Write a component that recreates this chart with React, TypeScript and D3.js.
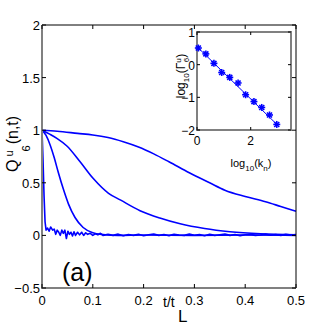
import React from "react";
import * as d3 from "d3";

// ---- main panel data ----
const tA = [0,0.002,0.004,0.006,0.008,0.011,0.014,0.017,0.021,0.024,0.027,0.03,0.033,0.036,0.039,0.042,0.045,0.048,0.051,0.054,0.057,0.06,0.063,0.066,0.07,0.074,0.078,0.082,0.086,0.09,0.095,0.1,0.105,0.11,0.115,0.12,0.13,0.14,0.15,0.16,0.17,0.18,0.19,0.2,0.21,0.22,0.23,0.24,0.25,0.26,0.27,0.28,0.29,0.3,0.31,0.32,0.33,0.34,0.35,0.36,0.37,0.38,0.39,0.4,0.41,0.42,0.43,0.44,0.45,0.46,0.47,0.48,0.49,0.5];
const vA = [1,0.72,0.38,0.13,0.05,0.07,0.04,0.08,0.05,0.06,0.01,0.05,0.03,0.0,0.05,0.02,0.05,-0.03,0.04,0.01,0.03,-0.005,0.035,0.0,0.03,0.005,0.03,0.0,0.025,0.01,0.02,0.0,0.015,0.005,0.02,0.0,0.01,0.0,0.012,-0.004,0.008,0.0,0.01,-0.003,0.006,0.012,0.0,0.008,-0.002,0.01,0.004,0.0,0.012,0.002,0.008,-0.003,0.01,0.0,0.006,0.012,0.0,0.008,-0.002,0.006,0.01,0.0,0.004,0.012,0.002,0.008,0.0,0.01,0.004,0.008];

const tB = [0,0.008,0.016,0.024,0.032,0.042,0.052,0.065,0.081,0.1,0.12,0.15,0.2,0.3,0.4,0.5];
const vB = [1,0.95,0.86,0.74,0.6,0.44,0.3,0.17,0.075,0.025,0.008,0.0,0.004,0.0,0.004,0.0];

const tC = [0,0.016,0.03,0.049,0.075,0.101,0.131,0.155,0.193,0.232,0.272,0.32,0.37,0.43,0.5];
const vC = [1,0.96,0.92,0.85,0.7,0.54,0.4,0.335,0.235,0.165,0.11,0.065,0.035,0.015,0.005];

const tD = [0,0.03,0.07,0.1,0.13,0.16,0.19,0.22,0.25,0.29,0.33,0.36,0.4,0.44,0.47,0.5];
const vD = [1,0.99,0.97,0.955,0.93,0.89,0.84,0.775,0.7,0.595,0.5,0.43,0.37,0.32,0.275,0.23];

const xTicks = [0, 0.1, 0.2, 0.3, 0.4, 0.5];
const xTickLabels = ["0", "0.1", "0.2", "0.3", "0.4", "0.5"];
const yTicks = [-0.5, 0, 0.5, 1, 1.5, 2];
const yTickLabels = ["\u22120.5", "0", "0.5", "1", "1.5", "2"];

// ---- inset data ----
const insetX = [0.05,0.33,0.63,0.92,1.22,1.53,1.81,2.12,2.41,2.7,2.97];
const insetY = [0.51,0.33,0.04,-0.24,-0.39,-0.56,-0.92,-1.13,-1.31,-1.54,-1.83];
const fitX = [0, 3];
const fitY = [0.55, -1.85];
const insetXTicks = [0, 2];
const insetYTicks = [1, 0, -1, -2];
const insetYTickLabels = ["1", "0", "\u22121", "\u22122"];

const FONT = "'Liberation Sans Narrow', 'Liberation Sans', Arial, sans-serif";
const BLUE = "#0000ff";

export default function App() {
  const x = d3.scaleLinear().domain([0, 0.5]).range([42, 296]);
  const y = d3.scaleLinear().domain([-0.5, 2]).range([288, 25]);
  const xi = d3.scaleLinear().domain([0, 3.5]).range([197, 291]);
  const yi = d3.scaleLinear().domain([-2, 1]).range([130, 32]);

  const smooth = d3.line<[number, number]>().x(d => x(d[0])).y(d => y(d[1])).curve(d3.curveMonotoneX);
  const raw = d3.line<[number, number]>().x(d => x(d[0])).y(d => y(d[1]));
  const zip = (a: number[], b: number[]) => a.map((v, i) => [v, b[i]] as [number, number]);

  const [x0, x1] = x.range();
  const [y0, y1] = y.range();
  const [ix0, ix1] = xi.range();
  const [iy0, iy1] = yi.range();

  const fitLine = d3.line<[number, number]>().x(d => xi(d[0])).y(d => yi(d[1]));

  return (
    <svg width={327} height={327} style={{ position: "fixed", left: 0, top: 0, background: "#fff" }} fontFamily={FONT}>
      <rect x={0} y={0} width={327} height={327} fill="#fff" />
      {/* curves */}
      <g fill="none" stroke={BLUE} strokeWidth={1.6} strokeLinejoin="round">
        <path d={raw(zip(tA, vA)) || ""} />
        <path d={smooth(zip(tB, vB)) || ""} />
        <path d={smooth(zip(tC, vC)) || ""} />
        <path d={smooth(zip(tD, vD)) || ""} />
      </g>
      {/* axes box */}
      <line x1={x0} x2={x1} y1={y1} y2={y1} stroke="#000" strokeWidth={1} />
      <line x1={x1} x2={x1} y1={y1} y2={y0} stroke="#000" strokeWidth={1} />
      <line x1={x0} x2={x0} y1={y1} y2={y0 + 1} stroke="#808080" strokeWidth={2} />
      <line x1={x0 - 1} x2={x1} y1={y0} y2={y0} stroke="#808080" strokeWidth={2} />
      {/* ticks */}
      <g stroke="#000" strokeWidth={1}>
        {xTicks.map((t, i) => (
          <g key={"xt" + i}>
            <line x1={x(t)} x2={x(t)} y1={y0} y2={y0 - 4} />
            <line x1={x(t)} x2={x(t)} y1={y1} y2={y1 + 4} />
          </g>
        ))}
        {yTicks.map((t, i) => (
          <g key={"yt" + i}>
            <line x1={x0} x2={x0 + 4} y1={y(t)} y2={y(t)} />
            <line x1={x1} x2={x1 - 4} y1={y(t)} y2={y(t)} />
          </g>
        ))}
      </g>
      {/* tick labels */}
      <g fontSize={13} fill="#000">
        {xTicks.map((t, i) => (
          <text key={"xl" + i} x={x(t)} y={y0 + 17} textAnchor="middle">{xTickLabels[i]}</text>
        ))}
        {yTicks.map((t, i) => (
          <text key={"yl" + i} x={x0 - 2} y={y(t) + 5} textAnchor="end">{yTickLabels[i]}</text>
        ))}
      </g>
      {/* x label */}
      <text x={163} y={307} fontSize={14} fill="#000">t/t</text>
      <text x={178} y={322} fontSize={17} fill="#000">L</text>
      {/* y label */}
      <text transform="translate(18,172) rotate(-90)" fontSize={16} fill="#000">
        Q<tspan fontSize={11} dx={3} dy={-5}>u</tspan>
        <tspan fontSize={11} dx={-1} dy={17}>6</tspan>
        <tspan dx={1} dy={-12}>(n,t)</tspan>
      </text>
      {/* (a) */}
      <text x={62} y={281} fontSize={25} fill="#000">(a)</text>

      {/* inset */}
      <rect x={ix0} y={iy1} width={ix1 - ix0} height={iy0 - iy1} fill="#fff" stroke="#808080" strokeWidth={2} />
      <g stroke="#000" strokeWidth={1}>
        {insetXTicks.map((t, i) => (
          <g key={"ixt" + i}>
            <line x1={xi(t)} x2={xi(t)} y1={iy0} y2={iy0 - 3} />
            <line x1={xi(t)} x2={xi(t)} y1={iy1} y2={iy1 + 3} />
          </g>
        ))}
        {insetYTicks.map((t, i) => (
          <g key={"iyt" + i}>
            <line x1={ix0} x2={ix0 + 3} y1={yi(t)} y2={yi(t)} />
            <line x1={ix1} x2={ix1 - 3} y1={yi(t)} y2={yi(t)} />
          </g>
        ))}
      </g>
      <path d={fitLine(zip(fitX, fitY)) || ""} fill="none" stroke={BLUE} strokeWidth={1} />
      <g stroke={BLUE} strokeWidth={1.6}>
        {insetX.map((v, i) => {
          const cx = xi(v);
          const cy = yi(insetY[i]);
          return (
            <g key={"m" + i}>
              <line x1={cx - 3.5} x2={cx + 3.5} y1={cy} y2={cy} />
              <line x1={cx} x2={cx} y1={cy - 3.5} y2={cy + 3.5} />
              <line x1={cx - 2.5} x2={cx + 2.5} y1={cy - 2.5} y2={cy + 2.5} />
              <line x1={cx - 2.5} x2={cx + 2.5} y1={cy + 2.5} y2={cy - 2.5} />
            </g>
          );
        })}
      </g>
      <g fontSize={12} fill="#000">
        {insetXTicks.map((t, i) => (
          <text key={"ixl" + i} x={xi(t)} y={iy0 + 15} textAnchor="middle">{String(t)}</text>
        ))}
        {insetYTicks.map((t, i) => (
          <text key={"iyl" + i} x={ix0 - 2} y={yi(t) + 5} textAnchor="end">{insetYTickLabels[i]}</text>
        ))}
      </g>
      <text x={251} y={167} fontSize={11} fill="#000" textAnchor="middle">
        log<tspan fontSize={8} dy={4}>10</tspan><tspan dy={-4}>(k</tspan><tspan fontSize={8} dy={4}>n</tspan><tspan dy={-4}>)</tspan>
      </text>
      <text transform="translate(185,76) rotate(-90)" fontSize={12} fill="#000" textAnchor="middle">
        log<tspan fontSize={8} dy={4}>10</tspan><tspan dy={-4}>(Γ</tspan><tspan fontSize={8} dy={-4}>u</tspan><tspan fontSize={8} dx={-4} dy={8}>6</tspan><tspan dy={-4}>)</tspan>
      </text>
    </svg>
  );
}
